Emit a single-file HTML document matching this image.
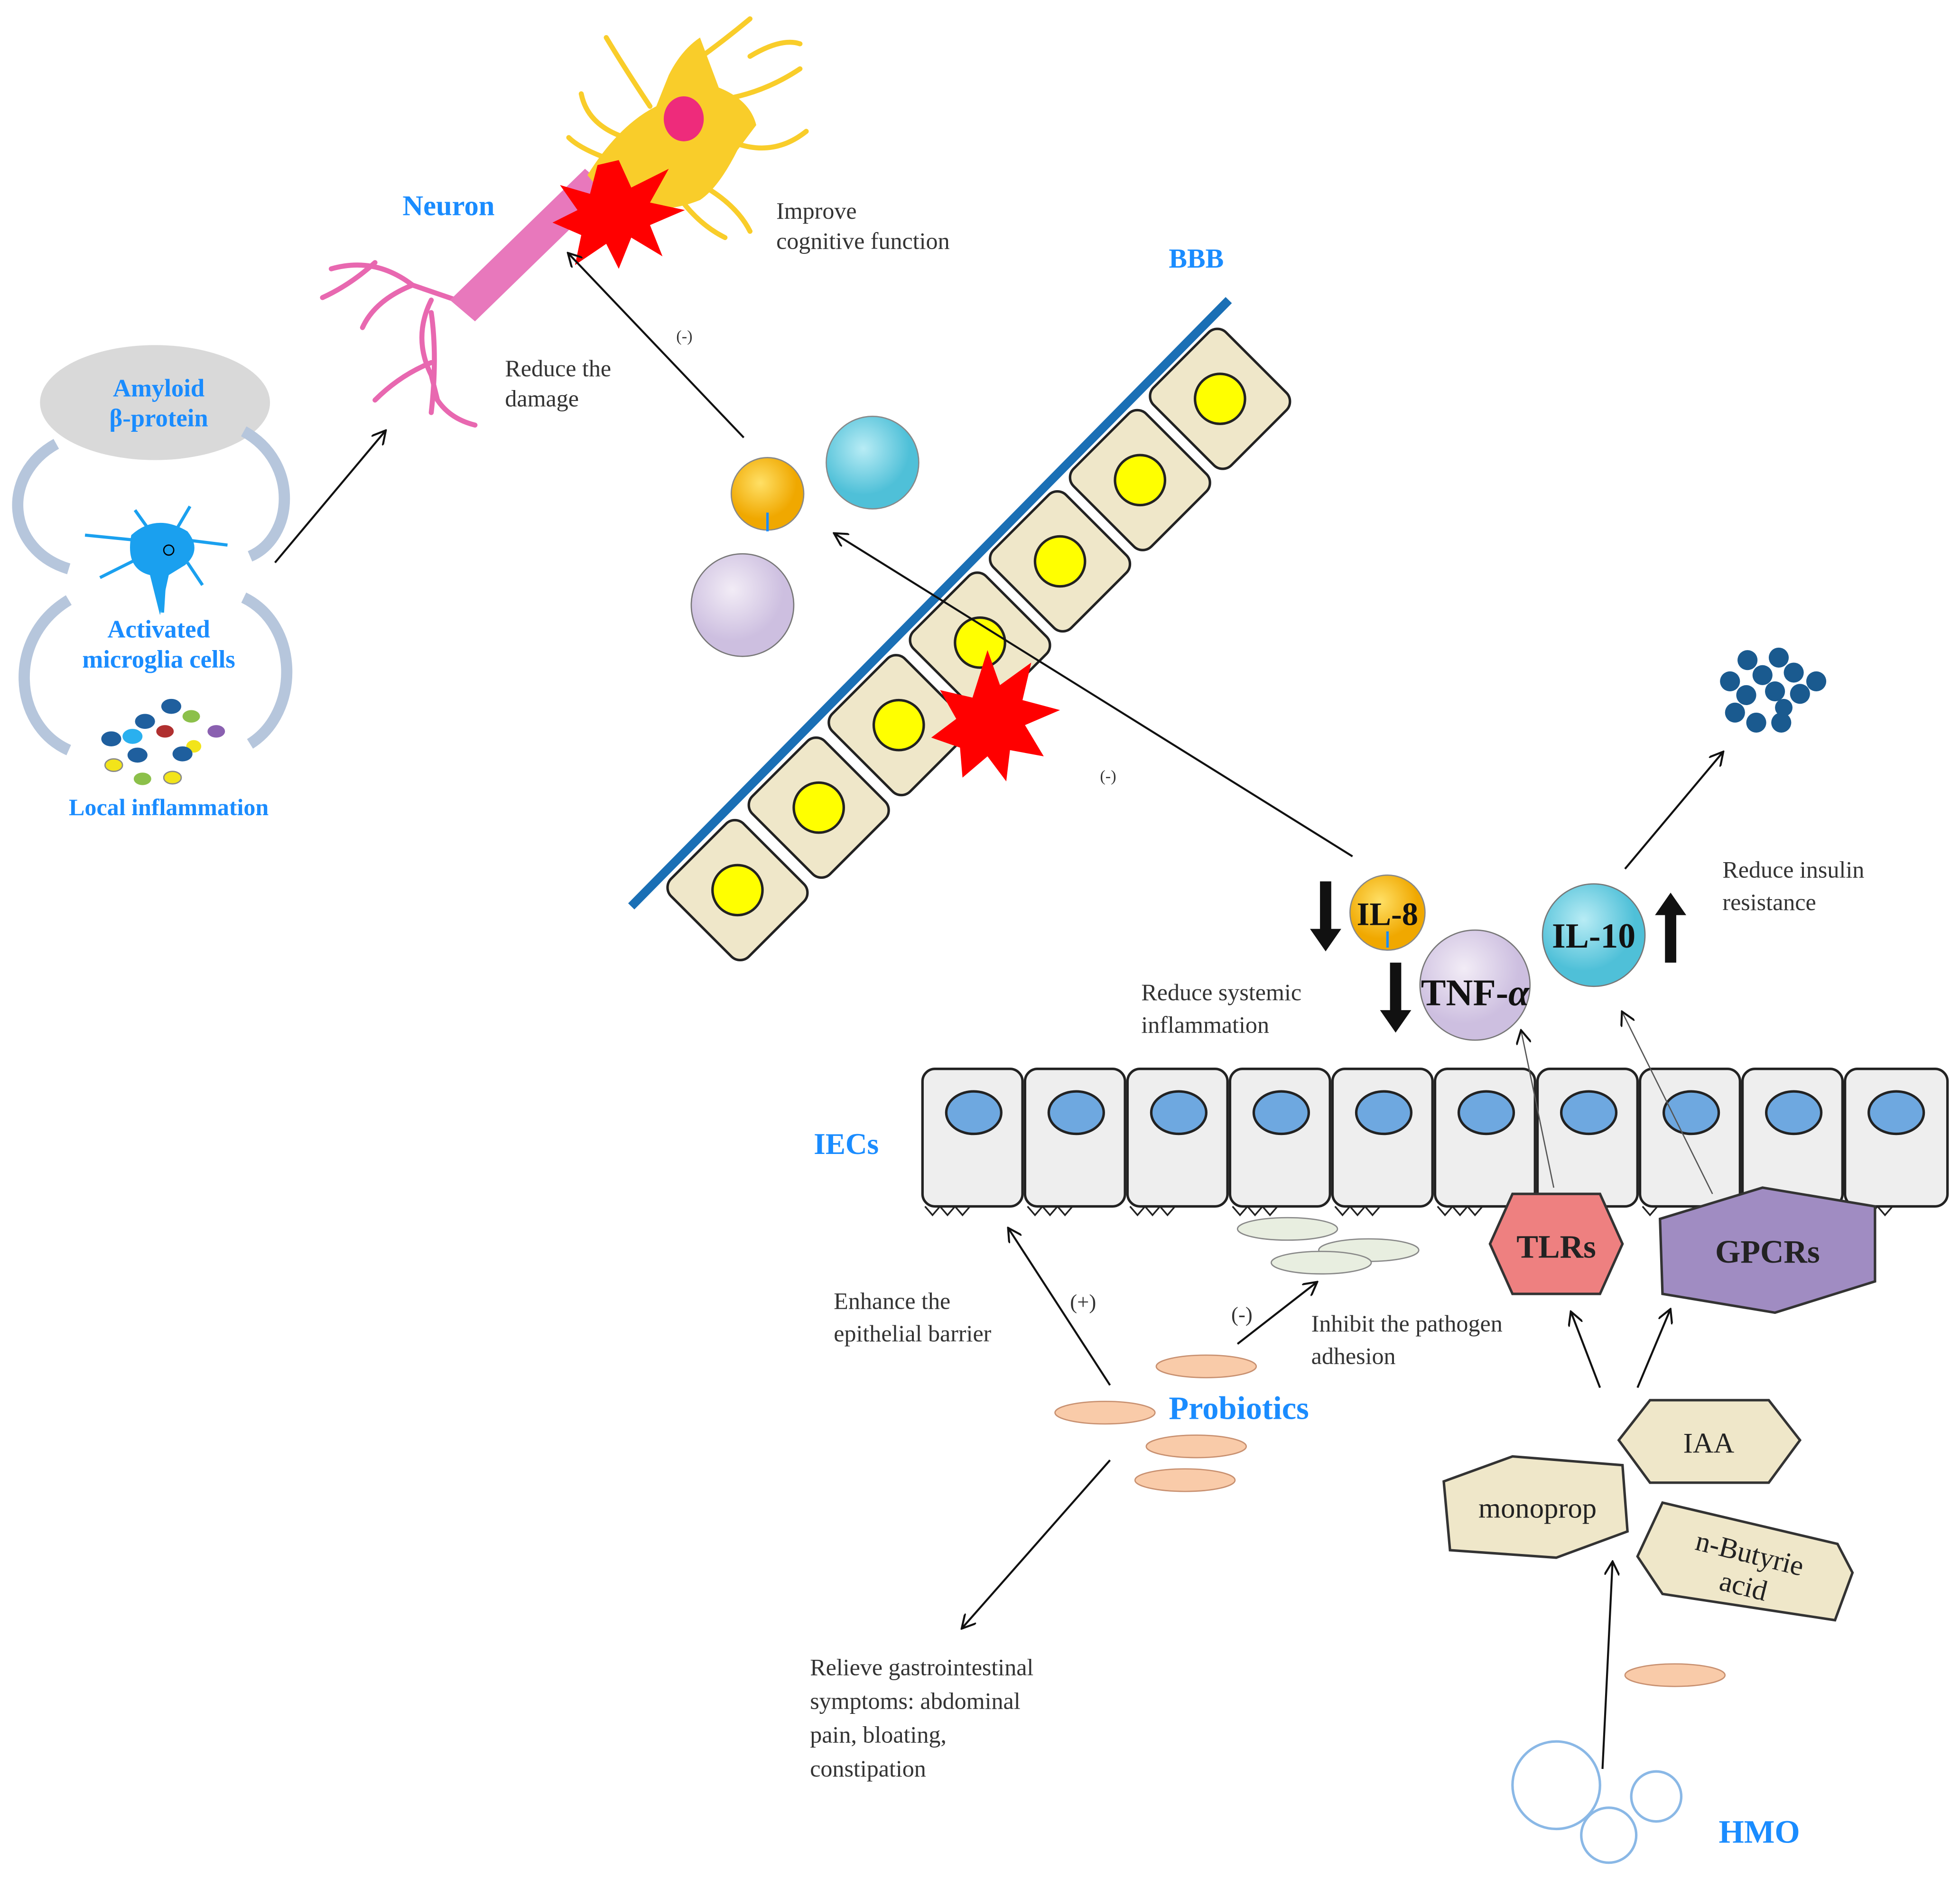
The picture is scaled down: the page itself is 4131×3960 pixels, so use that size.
<!DOCTYPE html>
<html><head><meta charset="utf-8"><style>
html,body{margin:0;padding:0;background:#fff}
svg{display:block}
text{font-family:"Liberation Serif",serif}
.b{fill:#1a8cff;font-weight:bold}
.k{fill:#333;font-size:19px}
</style></head><body>
<svg width="4131" height="3960" viewBox="0 0 1568 1503" xmlns="http://www.w3.org/2000/svg">
<defs>
<marker id="ar" markerWidth="12" markerHeight="12" refX="10" refY="6" orient="auto" markerUnits="userSpaceOnUse"><path d="M0,0 L11,6 L0,12" fill="none" stroke="#111" stroke-width="1.6"/></marker>
<radialGradient id="gO" cx="40%" cy="35%"><stop offset="0" stop-color="#ffe066"/><stop offset="1" stop-color="#f0a800"/></radialGradient>
<radialGradient id="gC" cx="40%" cy="35%"><stop offset="0" stop-color="#b8ecf5"/><stop offset="1" stop-color="#4fc0d8"/></radialGradient>
<radialGradient id="gL" cx="40%" cy="35%"><stop offset="0" stop-color="#f2ecf6"/><stop offset="1" stop-color="#cdbfe0"/></radialGradient>
</defs>
<rect width="1568" height="1503" fill="#fff"/>

<!-- left cycle -->
<ellipse cx="124" cy="322" rx="92" ry="46" fill="#d9d9d9"/>
<text class="b" x="127" y="317" font-size="20" text-anchor="middle">Amyloid</text>
<text class="b" x="127" y="341" font-size="20" text-anchor="middle">β-protein</text>
<g fill="none" stroke="#b6c6dc" stroke-width="9">
<path d="M55,455 C5,440 0,380 45,355"/>
<path d="M195,345 C240,370 235,430 200,445"/>
<path d="M55,480 C5,510 10,580 55,600"/>
<path d="M195,478 C240,500 240,570 200,595"/>
</g>
<path d="M105,428 Q125,410 150,425 Q162,440 148,452 L135,460 L128,492 L120,460 Q100,455 105,428Z" fill="#1aa0ef"/>
<g stroke="#1aa0ef" stroke-width="2.5" fill="none"><path d="M108,432 L68,428 M150,432 L182,436 M142,422 L152,405 M118,422 L108,408 M108,448 L80,462 M150,450 L162,468 M132,458 L130,490"/></g>
<circle cx="135" cy="440" r="4" fill="none" stroke="#000"/>
<text class="b" x="127" y="510" font-size="20" text-anchor="middle">Activated</text>
<text class="b" x="127" y="534" font-size="20" text-anchor="middle">microglia cells</text>
<g stroke="none">
<ellipse cx="137" cy="565" rx="8" ry="6" fill="#1f5f9e"/><ellipse cx="153" cy="573" rx="7" ry="5" fill="#8cc04a"/>
<ellipse cx="116" cy="577" rx="8" ry="6" fill="#1f5f9e"/><ellipse cx="132" cy="585" rx="7" ry="5" fill="#b03030"/>
<ellipse cx="173" cy="585" rx="7" ry="5" fill="#8a60b0"/><ellipse cx="89" cy="591" rx="8" ry="6" fill="#1f5f9e"/>
<ellipse cx="106" cy="589" rx="8" ry="6" fill="#2ab0ef"/><ellipse cx="155" cy="597" rx="6" ry="5" fill="#f2e41a"/>
<ellipse cx="146" cy="603" rx="8" ry="6" fill="#1f5f9e"/><ellipse cx="110" cy="604" rx="8" ry="6" fill="#1f5f9e"/>
<ellipse cx="91" cy="612" rx="7" ry="5" fill="#f2e41a" stroke="#888"/><ellipse cx="114" cy="623" rx="7" ry="5" fill="#8cc04a"/>
<ellipse cx="138" cy="622" rx="7" ry="5" fill="#f2e41a" stroke="#888"/>
</g>
<text class="b" x="135" y="652" font-size="19" text-anchor="middle">Local inflammation</text>
<line x1="220" y1="450" x2="308" y2="345" stroke="#111" stroke-width="1.6" marker-end="url(#ar)"/>

<!-- neuron -->
<g fill="none" stroke="#e868b0" stroke-width="4" stroke-linecap="round">
<path d="M365,240 L330,228 Q300,205 265,215 M330,228 Q300,240 290,262 M300,210 Q280,228 258,238 M345,240 Q330,270 345,300 L350,320 Q360,335 380,340 M345,290 Q320,300 300,320 M345,250 Q350,285 345,330"/>
</g>
<path d="M360,240 L468,135 L488,152 L380,257 Z" fill="#e878bc"/>
<path d="M470,140 Q495,100 525,85 L535,60 Q545,40 560,30 L575,70 Q600,80 605,100 L590,120 Q575,150 560,160 Q535,170 515,165 Q490,160 478,150 Z" fill="#f9cd2a"/>
<g fill="none" stroke="#f9cd2a" stroke-width="4" stroke-linecap="round">
<path d="M520,85 Q500,55 485,30 M540,60 Q570,40 600,15 M575,80 Q610,75 640,55 M590,115 Q620,125 645,105 M565,150 Q590,165 600,185 M545,160 Q560,180 580,190 M500,110 Q470,100 465,75 M495,130 Q465,120 455,110 M600,45 Q625,30 640,35"/>
</g>
<ellipse cx="547" cy="95" rx="16" ry="18" fill="#ee2b7b"/>
<polygon points="495,128 505,150 535,135 520,162 548,168 520,180 530,205 505,190 495,215 485,195 460,212 465,188 442,178 462,168 448,148 472,155 478,132" fill="#ff0000"/>
<text class="b" x="322" y="172" font-size="23">Neuron</text>
<text class="k" x="621" y="175">Improve</text>
<text class="k" x="621" y="199">cognitive function</text>
<text class="k" x="404" y="301">Reduce the</text>
<text class="k" x="404" y="325">damage</text>
<text x="541" y="273" font-size="13" fill="#333">(-)</text>
<line x1="595" y1="350" x2="455" y2="203" stroke="#111" stroke-width="1.6" marker-end="url(#ar)"/>

<!-- cytokine balls top -->
<circle cx="614" cy="395" r="29" fill="url(#gO)" stroke="#888"/>
<line x1="614" y1="410" x2="614" y2="425" stroke="#1a8cff" stroke-width="2"/>
<circle cx="698" cy="370" r="37" fill="url(#gC)" stroke="#888"/>
<circle cx="594" cy="484" r="41" fill="url(#gL)" stroke="#777"/>

<!-- BBB -->
<g>
<line x1="505" y1="725" x2="983" y2="240" stroke="#1a6fb5" stroke-width="7"/>
<g fill="#efe7c9" stroke="#222" stroke-width="2">
<g transform="translate(590,712) rotate(-45)"><rect x="-41" y="-44" width="82" height="88" rx="10"/></g>
<g transform="translate(655,646) rotate(-45)"><rect x="-41" y="-44" width="82" height="88" rx="10"/></g>
<g transform="translate(719,580) rotate(-45)"><rect x="-41" y="-44" width="82" height="88" rx="10"/></g>
<g transform="translate(784,514) rotate(-45)"><rect x="-41" y="-44" width="82" height="88" rx="10"/></g>
<g transform="translate(848,449) rotate(-45)"><rect x="-41" y="-44" width="82" height="88" rx="10"/></g>
<g transform="translate(912,384) rotate(-45)"><rect x="-41" y="-44" width="82" height="88" rx="10"/></g>
<g transform="translate(976,319) rotate(-45)"><rect x="-41" y="-44" width="82" height="88" rx="10"/></g>
</g>
<g fill="#ffff00" stroke="#222" stroke-width="2">
<circle cx="590" cy="712" r="20"/><circle cx="655" cy="646" r="20"/><circle cx="719" cy="580" r="20"/><circle cx="784" cy="514" r="20"/><circle cx="848" cy="449" r="20"/><circle cx="912" cy="384" r="20"/><circle cx="976" cy="319" r="20"/>
</g>
</g>
<text class="b" x="935" y="214" font-size="22">BBB</text>
<polygon points="790,520 800,548 825,530 818,560 848,568 820,580 835,605 808,600 805,625 790,605 770,622 768,598 745,590 765,575 752,552 778,558" fill="#ff0000"/>
<line x1="1082" y1="685" x2="668" y2="427" stroke="#111" stroke-width="1.6" marker-end="url(#ar)"/>
<text x="880" y="625" font-size="13" fill="#333">(-)</text>

<!-- cytokines bottom -->
<circle cx="1110" cy="730" r="30" fill="url(#gO)" stroke="#888"/>
<line x1="1110" y1="745" x2="1110" y2="758" stroke="#1a8cff" stroke-width="2"/>
<text x="1110" y="740" font-size="26" font-weight="bold" text-anchor="middle" fill="#111">IL-8</text>
<circle cx="1180" cy="788" r="44" fill="url(#gL)" stroke="#777"/>
<text x="1180" y="804" font-size="30" font-weight="bold" text-anchor="middle" fill="#111">TNF-<tspan font-style="italic">α</tspan></text>
<circle cx="1275" cy="748" r="41" fill="url(#gC)" stroke="#777"/>
<text x="1275" y="758" font-size="28" font-weight="bold" text-anchor="middle" fill="#111">IL-10</text>
<g fill="#111">
<path d="M1056,705 h9 v38 h8 l-12.5,18 l-12.5,-18 h8 z"/>
<path d="M1112,770 h9 v38 h8 l-12.5,18 l-12.5,-18 h8 z"/>
<path d="M1332,770 h9 v-38 h8 l-12.5,-18 l-12.5,18 h8 z"/>
</g>
<text class="k" x="913" y="800" font-size="21">Reduce systemic</text>
<text class="k" x="913" y="826" font-size="21">inflammation</text>
<text class="k" x="1378" y="702" font-size="21">Reduce insulin</text>
<text class="k" x="1378" y="728" font-size="21">resistance</text>
<line x1="1300" y1="695" x2="1378" y2="602" stroke="#111" stroke-width="1.6" marker-end="url(#ar)"/>
<g fill="#1a5a8f">
<circle cx="1398" cy="528" r="8"/><circle cx="1423" cy="526" r="8"/><circle cx="1384" cy="545" r="8"/><circle cx="1410" cy="540" r="8"/><circle cx="1435" cy="538" r="8"/><circle cx="1453" cy="545" r="8"/><circle cx="1397" cy="556" r="8"/><circle cx="1420" cy="553" r="8"/><circle cx="1440" cy="555" r="8"/><circle cx="1388" cy="570" r="8"/><circle cx="1405" cy="578" r="8"/><circle cx="1425" cy="578" r="8"/><circle cx="1427" cy="566" r="7"/>
</g>

<!-- IECs -->
<text class="b" x="651" y="923" font-size="24">IECs</text>
<g fill="#eeeeee" stroke="#222" stroke-width="2">
<rect x="738" y="855" width="80" height="110" rx="10"/><rect x="820" y="855" width="80" height="110" rx="10"/>
<rect x="902" y="855" width="80" height="110" rx="10"/><rect x="984" y="855" width="80" height="110" rx="10"/>
<rect x="1066" y="855" width="80" height="110" rx="10"/><rect x="1148" y="855" width="80" height="110" rx="10"/>
<rect x="1230" y="855" width="80" height="110" rx="10"/><rect x="1312" y="855" width="80" height="110" rx="10"/>
<rect x="1394" y="855" width="80" height="110" rx="10"/><rect x="1476" y="855" width="82" height="110" rx="10"/>
</g>
<g fill="#6ea8e0" stroke="#222" stroke-width="2">
<ellipse cx="779" cy="890" rx="22" ry="17"/><ellipse cx="861" cy="890" rx="22" ry="17"/><ellipse cx="943" cy="890" rx="22" ry="17"/><ellipse cx="1025" cy="890" rx="22" ry="17"/><ellipse cx="1107" cy="890" rx="22" ry="17"/><ellipse cx="1189" cy="890" rx="22" ry="17"/><ellipse cx="1271" cy="890" rx="22" ry="17"/><ellipse cx="1353" cy="890" rx="22" ry="17"/><ellipse cx="1435" cy="890" rx="22" ry="17"/><ellipse cx="1517" cy="890" rx="22" ry="17"/>
</g>
<path d="M740,965 l6,7 l6,-7 l6,7 l6,-7 l6,7 l6,-7 M822,965 l6,7 l6,-7 l6,7 l6,-7 l6,7 l6,-7 M904,965 l6,7 l6,-7 l6,7 l6,-7 l6,7 l6,-7 M986,965 l6,7 l6,-7 l6,7 l6,-7 l6,7 l6,-7 M1068,965 l6,7 l6,-7 l6,7 l6,-7 l6,7 l6,-7 M1150,965 l6,7 l6,-7 l6,7 l6,-7 l6,7 l6,-7 M1232,965 l6,7 l6,-7 l6,7 l6,-7 M1314,965 l6,7 l6,-7 M1478,965 l6,7 l6,-7 l6,7 l6,-7 l6,7 l6,-7" fill="none" stroke="#222" stroke-width="1.3"/>
<g fill="#e8eee0" stroke="#888">
<ellipse cx="1030" cy="983" rx="40" ry="9"/><ellipse cx="1095" cy="1000" rx="40" ry="9"/><ellipse cx="1057" cy="1010" rx="40" ry="9"/>
</g>
<line x1="1243" y1="950" x2="1217" y2="825" stroke="#555" stroke-width="1" marker-end="url(#ar)"/>
<line x1="1370" y1="955" x2="1298" y2="810" stroke="#555" stroke-width="1" marker-end="url(#ar)"/>
<polygon points="1210,955 1280,955 1298,995 1280,1035 1210,1035 1192,995" fill="#ee8080" stroke="#333" stroke-width="2"/>
<text x="1245" y="1006" font-size="26" font-weight="bold" text-anchor="middle" fill="#222">TLRs</text>
<polygon points="1328,975 1410,950 1500,965 1500,1025 1420,1050 1330,1035" fill="#a08cc2" stroke="#333" stroke-width="2"/>
<text x="1414" y="1010" font-size="26" font-weight="bold" text-anchor="middle" fill="#222">GPCRs</text>

<!-- probiotics -->
<text class="k" x="667" y="1047" font-size="21">Enhance the</text>
<text class="k" x="667" y="1073" font-size="21">epithelial barrier</text>
<text x="856" y="1047" font-size="17" fill="#333">(+)</text>
<text x="985" y="1057" font-size="17" fill="#333">(-)</text>
<text class="k" x="1049" y="1065" font-size="21">Inhibit the pathogen</text>
<text class="k" x="1049" y="1091" font-size="21">adhesion</text>
<line x1="888" y1="1108" x2="807" y2="983" stroke="#111" stroke-width="1.6" marker-end="url(#ar)"/>
<line x1="990" y1="1075" x2="1053" y2="1026" stroke="#111" stroke-width="1.6" marker-end="url(#ar)"/>
<line x1="1280" y1="1110" x2="1257" y2="1050" stroke="#111" stroke-width="1.6" marker-end="url(#ar)"/>
<line x1="1310" y1="1110" x2="1336" y2="1048" stroke="#111" stroke-width="1.6" marker-end="url(#ar)"/>
<g fill="#f9cba9" stroke="#c89070">
<ellipse cx="965" cy="1093" rx="40" ry="9"/><ellipse cx="884" cy="1130" rx="40" ry="9"/><ellipse cx="957" cy="1157" rx="40" ry="9"/><ellipse cx="948" cy="1184" rx="40" ry="9"/><ellipse cx="1340" cy="1340" rx="40" ry="9"/>
</g>
<text class="b" x="935" y="1135" font-size="26">Probiotics</text>
<line x1="888" y1="1168" x2="770" y2="1302" stroke="#111" stroke-width="1.6" marker-end="url(#ar)"/>
<text class="k" x="648" y="1340" font-size="21">Relieve gastrointestinal</text>
<text class="k" x="648" y="1367" font-size="21">symptoms: abdominal</text>
<text class="k" x="648" y="1394" font-size="21">pain, bloating,</text>
<text class="k" x="648" y="1421" font-size="21">constipation</text>

<polygon points="1320,1120 1415,1120 1440,1152 1415,1186 1320,1186 1295,1152" fill="#efe7c9" stroke="#333" stroke-width="2"/>
<text x="1367" y="1162" font-size="23" text-anchor="middle" fill="#222">IAA</text>
<polygon points="1155,1185 1210,1165 1298,1172 1302,1225 1245,1246 1160,1240" fill="#efe7c9" stroke="#333" stroke-width="2"/>
<text x="1230" y="1214" font-size="23" text-anchor="middle" fill="#222">monoprop</text>
<polygon points="1330,1202 1470,1235 1482,1258 1468,1296 1330,1275 1310,1245" fill="#efe7c9" stroke="#333" stroke-width="2"/>
<text x="1398" y="1250" font-size="23" text-anchor="middle" fill="#222" transform="rotate(14 1398 1250)">n-Butyrie</text>
<text x="1393" y="1276" font-size="23" text-anchor="middle" fill="#222" transform="rotate(14 1393 1276)">acid</text>
<line x1="1282" y1="1415" x2="1290" y2="1250" stroke="#111" stroke-width="1.6" marker-end="url(#ar)"/>
<g fill="none" stroke="#8ab8e6" stroke-width="2">
<circle cx="1245" cy="1428" r="35"/><circle cx="1287" cy="1468" r="22"/><circle cx="1325" cy="1437" r="20"/>
</g>
<text class="b" x="1375" y="1474" font-size="26">HMO</text>
</svg>
</body></html>
